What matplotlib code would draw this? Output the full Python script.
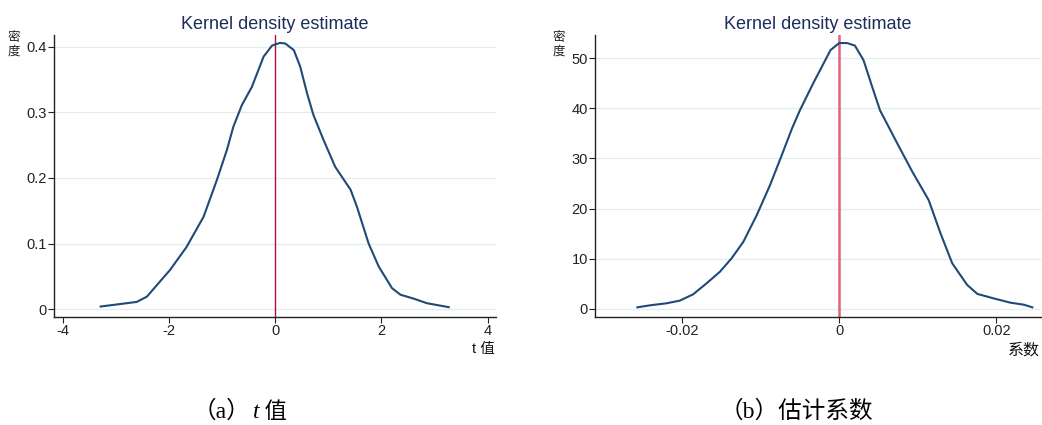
import numpy as np
import matplotlib
matplotlib.use("Agg")
import matplotlib.pyplot as plt

plt.rcParams['font.family'] = ['Liberation Sans', 'Noto Sans CJK SC', 'DejaVu Sans']
plt.rcParams['axes.unicode_minus'] = False

# (a) t values: kernel density
t_x = [-3.29, -2.61, -2.42, -1.98, -1.67, -1.35, -1.10, -0.91, -0.79, -0.63, -0.44,
       -0.22, -0.06, 0.09, 0.19, 0.35, 0.47, 0.60, 0.72, 0.91, 1.13, 1.42, 1.54,
       1.76, 1.95, 2.20, 2.36, 2.61, 2.86, 3.27]
t_y = [0.004, 0.011, 0.019, 0.060, 0.095, 0.141, 0.197, 0.243, 0.278, 0.311, 0.339,
       0.385, 0.402, 0.406, 0.405, 0.395, 0.370, 0.329, 0.296, 0.258, 0.217, 0.182, 0.156,
       0.100, 0.065, 0.032, 0.022, 0.016, 0.009, 0.003]

# (b) estimated coefficients: kernel density
c_x = [-0.0257, -0.0241, -0.0220, -0.0203, -0.0186, -0.0169, -0.0152, -0.0137, -0.0122,
       -0.0105, -0.0088, -0.0073, -0.0060, -0.0050, -0.0033, -0.0011, 0.0000, 0.0010,
       0.0020, 0.0031, 0.0042, 0.0052, 0.0074, 0.0093, 0.0114, 0.0129, 0.0144, 0.0163,
       0.0176, 0.0197, 0.0218, 0.0235, 0.0246]
c_y = [0.33, 0.73, 1.13, 1.66, 2.92, 5.1, 7.4, 10.1, 13.4, 18.7, 24.7, 30.7, 36.0, 39.6,
       45.0, 51.6, 53.0, 53.0, 52.5, 49.6, 44.3, 39.6, 33.0, 27.4, 21.7, 15.1, 9.1, 4.8,
       3.0, 2.1, 1.26, 0.86, 0.33]

t_xticks = [-4, -2, 0, 2, 4]
t_yticks = [0, 0.1, 0.2, 0.3, 0.4]
t_yticklabels = ['0', '0.1', '0.2', '0.3', '0.4']
c_xticks = [-0.02, 0, 0.02]
c_xticklabels = ['-0.02', '0', '0.02']
c_yticks = [0, 10, 20, 30, 40, 50]

curve_col = '#1f4a78'
title_col = '#1c2d5c'
grid_col = '#e2eded'

fig = plt.figure(figsize=(10.42, 4.25), dpi=100)
ax1 = fig.add_axes([0.0518, 0.2541, 0.4242, 0.6635])
ax2 = fig.add_axes([0.571, 0.2541, 0.428, 0.6635])


def style(ax, xticks, yticks, ylim, xlim):
    ax.set_xlim(*xlim)
    ax.set_ylim(*ylim)
    ax.set_xticks(xticks)
    ax.set_yticks(yticks)
    for s in ['top', 'right']:
        ax.spines[s].set_visible(False)
    for s in ['left', 'bottom']:
        ax.spines[s].set_linewidth(1.0)
        ax.spines[s].set_color('#222222')
    ax.tick_params(direction='out', length=4, width=0.8, labelsize=10.5,
                   colors='#222222', pad=1)
    for y in yticks:
        ax.axhline(y, color=grid_col, lw=0.9, zorder=0)
    ax.set_title('Kernel density estimate', fontsize=13, color=title_col, pad=4)


style(ax1, t_xticks, t_yticks, (-0.012, 0.418), (-4.17, 4.16))
ax1.set_yticklabels(t_yticklabels)
ax1.axvline(0, color='#b0103a', lw=1.0, zorder=1)
ax1.plot(t_x, t_y, color=curve_col, lw=1.5, zorder=2)

style(ax2, c_xticks, c_yticks, (-1.6, 54.6), (-0.0311, 0.0257))
ax2.set_xticklabels(c_xticklabels)
ax2.axvline(0, color='#e4607c', lw=1.8, zorder=1)
ax2.plot(c_x, c_y, color=curve_col, lw=1.5, zorder=2)

# stacked y labels ("密度") and x labels
for xpos in [0.0134, 0.5365]:
    fig.text(xpos, 0.911, '密', fontsize=9, ha='center', va='center', color='#222222')
    fig.text(xpos, 0.879, '度', fontsize=9, ha='center', va='center', color='#222222')
fig.text(0.475, 0.179, 't 值', fontsize=10.5, ha='right', va='center', color='#111111')
fig.text(0.998, 0.176, '系数', fontsize=11.5, ha='right', va='center', color='#111111')

# captions
serif = ['Liberation Serif', 'Noto Sans CJK SC']
a1 = fig.text(0.240, 0.017, '（a）', fontsize=17, family=serif, ha='right', va='baseline')
ann_t = ax1.annotate('t', xy=(1, 0), xycoords=a1, xytext=(2, 0), textcoords='offset points',
                     fontsize=17, family='Liberation Serif', style='italic',
                     ha='left', va='bottom', annotation_clip=False)
ax1.annotate(' 值', xy=(1, 0), xycoords=ann_t, fontsize=16, family=serif,
             ha='left', va='bottom', annotation_clip=False)
fig.text(0.764, 0.017, '（b）估计系数', fontsize=17, family=serif, ha='center', va='baseline')

fig.savefig('out.png', dpi=100)
